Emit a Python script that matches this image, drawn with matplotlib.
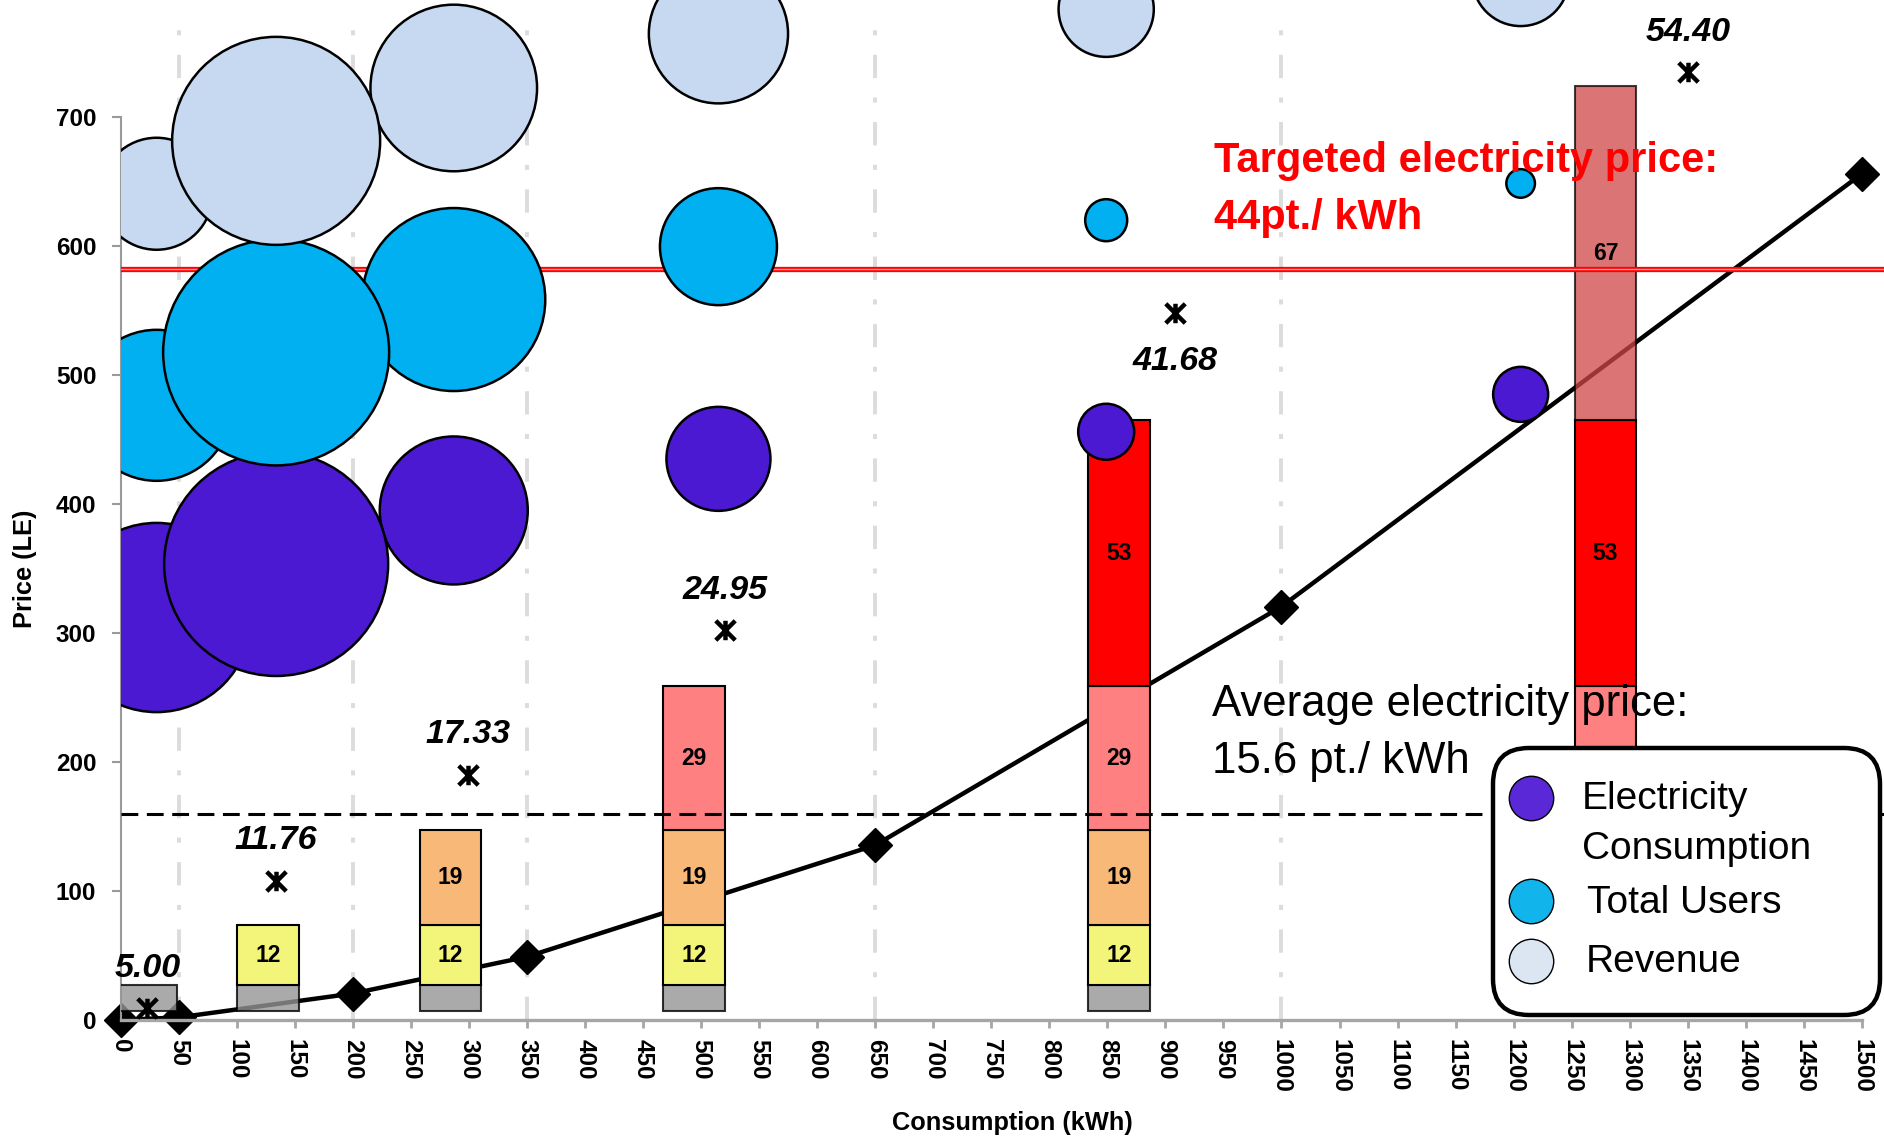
import numpy as np
import matplotlib
matplotlib.use("Agg")
import matplotlib.pyplot as plt
from matplotlib.path import Path
from matplotlib.patches import FancyBboxPatch
from matplotlib.transforms import IdentityTransform
from matplotlib.lines import Line2D

plt.rcParams['font.family'] = ['Liberation Sans', 'DejaVu Sans']

# bubble series (x, y, bubble radius)
bubble_x = [31, 134, 287, 515, 849, 1206]
consumption_y = [312, 353.5, 395, 435, 456, 485]
consumption_size = [94.6, 112, 74, 52, 28, 27.5]
users_y = [476.5, 517.5, 558.5, 599.5, 620, 648.5]
users_size = [75.5, 113, 91.5, 58.5, 21, 14.3]
revenue_y = [640.5, 681.5, 722.5, 764.5, 783.5, 808]
revenue_size = [56, 104, 83.3, 69.6, 47.6, 48.4]

# stacked tier bars
bar_x = [22, 127, 284, 494, 860, 1279]
bar_tiers = [1, 2, 3, 4, 5, 6]
tier_heights = [20, 46.5, 73.5, 112, 206, 259]
tier_labels = ['', '12', '19', '29', '53', '67']
bar_base = 7

# bill curve
cost_x = [0, 50, 200, 350, 650, 1000, 1500]
cost_y = [0, 2, 20.5, 49, 135.5, 320.5, 656]

# average price markers
avg_x = [23, 134, 299, 521, 908, 1350]
avg_y = [9, 108, 190, 302, 548, 734.5]
avg_labels = ['5.00', '11.76', '17.33', '24.95', '41.68', '54.40']

tier_boundaries = [50, 200, 350, 650, 1000]
target_price = 582
average_price = 160

fig = plt.figure(figsize=(18.84, 11.38), dpi=100)
ax = fig.add_axes([0.064, 0.1037, 0.936, 0.8963])
ax.set_xlim(0, 1519)
ax.set_ylim(0, 790.7)

# dashed tier boundaries
ax.vlines(tier_boundaries, 0, 777, colors='#dcdcdc', lw=2.8,
          linestyles=(0, (6, 5, 1.3, 5)), zorder=0.5)

# bill line with diamonds
ax.plot(cost_x, cost_y, color='black', lw=3.2, marker='D', ms=17,
        zorder=2, clip_on=False)

# stacked bars
tier_colors = ['#959595', '#f2f57a', '#f8b878', '#ff8080', '#ff0000', '#d04646']
tier_alpha = [0.8, 1, 1, 1, 1, 0.75]
legend_top = 211  # bar labels below this on the last bar sit under the legend
for xb, n in zip(bar_x, bar_tiers):
    bottom = bar_base
    for t in range(n):
        h = tier_heights[t]
        ax.bar(xb, h, width=53, bottom=bottom, color=tier_colors[t],
               alpha=tier_alpha[t], edgecolor='black', lw=1.5, zorder=3)
        mid = bottom + h / 2
        if tier_labels[t] and not (xb > 1200 and mid < legend_top):
            ax.text(xb, mid, tier_labels[t], ha='center', va='center',
                    fontsize=16.5, fontweight='bold', zorder=6)
        bottom += h

# horizontal reference lines
ax.axhline(target_price, color='#ff0000', lw=3.8, zorder=3.5)
ax.axhline(target_price, color='#ff9a9a', lw=1.0, zorder=3.6)
ax.axhline(average_price, color='black', lw=2.2, ls=(0, (5.5, 2.8)), zorder=3.5)

# bubbles, larger drawn on top within each series
def bubbles(y, size, color):
    size = np.array(size)
    order = np.argsort(size)
    s = (2 * size[order] * 0.72) ** 2
    ax.scatter(np.array(bubble_x)[order], np.array(y)[order], s=s, c=color,
               edgecolors='black', linewidths=1.8, zorder=4)

bubbles(consumption_y, consumption_size, '#4b19d2')
bubbles(users_y, users_size, '#00b0f0')
bubbles(revenue_y, revenue_size, '#c6d9f0')

# average price stars
star = Path([(-1, -1), (1, 1), (-1, 1), (1, -1), (0, -1), (0, 1)],
            [Path.MOVETO, Path.LINETO, Path.MOVETO, Path.LINETO,
             Path.MOVETO, Path.LINETO])
ax.plot(avg_x, avg_y, ls='none', marker=star, ms=14, mec='black', mew=3.2,
        zorder=5)
for xs, ys, lab in zip(avg_x, avg_y, avg_labels):
    off = -40.9 if lab == '41.68' else 22.7
    ax.annotate(lab, (xs, ys), xytext=(0, off), textcoords='offset points',
                ha='center', va='baseline', fontsize=24.5, fontweight='bold',
                fontstyle='italic', zorder=6)

# annotations
ax.text(941.5, 657.6, 'Targeted electricity price:', color='#ff0000',
        fontsize=30, fontweight='bold', va='baseline', zorder=6)
ax.text(941.5, 613, '44pt./ kWh', color='#ff0000',
        fontsize=30, fontweight='bold', va='baseline', zorder=6)
ax.text(940, 235.3, 'Average electricity price:', fontsize=31.5,
        va='baseline', zorder=6)
ax.text(940, 191.1, '15.6 pt./ kWh', fontsize=31.5, va='baseline', zorder=6)

# axes styling
for side in ['top', 'right']:
    ax.spines[side].set_visible(False)
ax.spines['left'].set_bounds(0, 700)
ax.spines['left'].set_color('#9a9a9a')
ax.spines['left'].set_linewidth(1.5)
ax.spines['bottom'].set_bounds(0, 1500)
ax.spines['bottom'].set_color('#a6a6a6')
ax.spines['bottom'].set_linewidth(2.4)

ax.set_xticks(np.arange(0, 1501, 50))
ax.set_yticks(np.arange(0, 701, 100))
ax.tick_params(axis='x', colors='#a6a6a6', labelcolor='black', width=2,
               length=6, pad=8, labelsize=17.5)
ax.tick_params(axis='y', colors='#9a9a9a', labelcolor='black', width=1.5,
               length=6.5, pad=11, labelsize=17.5)
for lab in ax.get_xticklabels():
    lab.set_rotation(270)
    lab.set_va('top')
    lab.set_ha('center')
    lab.set_fontweight('bold')
for lab in ax.get_yticklabels():
    lab.set_fontweight('bold')

ax.set_xlabel('Consumption (kWh)', fontsize=18.3, fontweight='bold', va='center')
ax.xaxis.set_label_coords(0.5055, -0.1007)
ax.set_ylabel('Price (LE)', fontsize=18.3, fontweight='bold', va='center')
ax.yaxis.set_label_coords(-0.0544, 0.4426)

# legend box (drawn in pixels)
H = 1138
box = FancyBboxPatch((1493, H - 1015), 387, 267,
                     boxstyle='round,pad=0,rounding_size=36',
                     transform=IdentityTransform(), fc='white', ec='black',
                     lw=3.2, zorder=10)
fig.add_artist(box)
legend_items = [('#5a28d6', 797.7, [('Electricity', 809.3, 1582),
                                    ('Consumption', 859.3, 1582)]),
                ('#12b4ec', 901, [('Total Users', 912.7, 1587)]),
                ('#dce6f2', 961, [('Revenue', 971.7, 1586)])]
for col, my, texts in legend_items:
    fig.add_artist(Line2D([1531], [H - my], ls='none', marker='o', ms=32,
                          mfc=col, mec='black', mew=1.0,
                          transform=IdentityTransform(), zorder=11))
    for txt, by, lx in texts:
        fig.text(lx, H - by, txt, fontsize=28, va='baseline', ha='left',
                 transform=IdentityTransform(), zorder=11)

fig.savefig('out.png', dpi=100)
